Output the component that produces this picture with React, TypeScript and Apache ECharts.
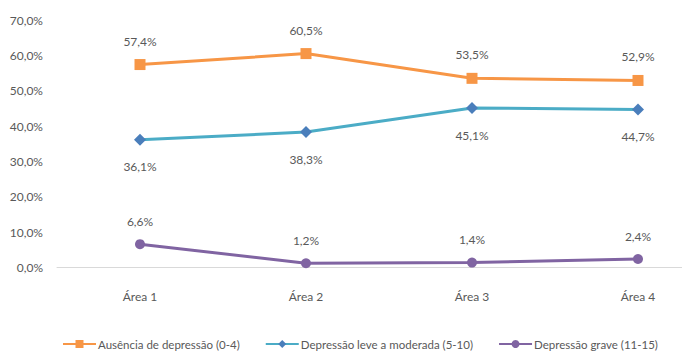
import React, { useEffect, useRef } from "react";
import * as echarts from "echarts";

const categories = ["Área 1", "Área 2", "Área 3", "Área 4"];
const seriesNames = [
  "Ausência de depressão (0-4)",
  "Depressão leve a moderada (5-10)",
  "Depressão grave (11-15)",
];
const ausencia = [57.4, 60.5, 53.5, 52.9];
const leve = [36.1, 38.3, 45.1, 44.7];
const grave = [6.6, 1.2, 1.4, 2.4];

const FONT = "Lato, 'Liberation Sans', sans-serif";
const TXT = "#595959";
const FS = 12;
const fmt = (v: number) => v.toFixed(1).replace(".", ",") + "%";

export default function App() {
  const ref = useRef<HTMLDivElement>(null);
  useEffect(() => {
    const chart = echarts.init(ref.current!, undefined, { renderer: "svg" });
    const label = (pos: string, dist: number) => ({
      show: true,
      position: pos,
      distance: dist,
      color: TXT,
      fontFamily: FONT,
      fontSize: FS,
      formatter: (p: any) => fmt(p.value),
    });
    chart.setOption({
      animation: false,
      textStyle: { fontFamily: FONT },
      grid: { left: 57, right: 0, top: 20, bottom: 85.5, containLabel: false },
      legend: {
        top: 333,
        left: 57,
        itemWidth: 33,
        itemHeight: 10,
        itemGap: 25,
        textStyle: { color: TXT, fontFamily: FONT, fontSize: 11.5, padding: [0, 0, 0, -3] },
        data: seriesNames,
      },
      xAxis: {
        type: "category",
        data: categories,
        boundaryGap: true,
        axisLine: { lineStyle: { color: "#d9d9d9", width: 1 } },
        axisTick: { show: false },
        axisLabel: { color: TXT, fontFamily: FONT, fontSize: FS, margin: 23 },
      },
      yAxis: {
        type: "value",
        min: 0,
        max: 70,
        interval: 10,
        axisLine: { show: false },
        axisTick: { show: false },
        splitLine: { show: false },
        axisLabel: {
          color: TXT,
          fontFamily: FONT,
          fontSize: FS,
          margin: 14,
          formatter: (v: number) => fmt(v),
        },
      },
      series: [
        {
          name: seriesNames[0],
          type: "line",
          data: ausencia,
          symbol: "rect",
          symbolSize: 11,
          lineStyle: { color: "#F79646", width: 3 },
          itemStyle: { color: "#F79646" },
          label: label("top", 12),
        },
        {
          name: seriesNames[1],
          type: "line",
          data: leve,
          symbol: "diamond",
          symbolSize: 12,
          lineStyle: { color: "#4BACC6", width: 3 },
          itemStyle: { color: "#4A7EBB" },
          label: label("bottom", 15),
        },
        {
          name: seriesNames[2],
          type: "line",
          data: grave,
          symbol: "circle",
          symbolSize: 10,
          lineStyle: { color: "#8064A2", width: 3 },
          itemStyle: { color: "#8064A2" },
          label: label("top", 12),
        },
      ],
    });
    return () => chart.dispose();
  }, []);
  return (
    <div style={{ position: "absolute", left: 0, top: 0, width: 682, height: 353, overflow: "hidden", background: "#fff" }}>
      <div ref={ref} style={{ width: 721, height: 353 }} />
    </div>
  );
}
